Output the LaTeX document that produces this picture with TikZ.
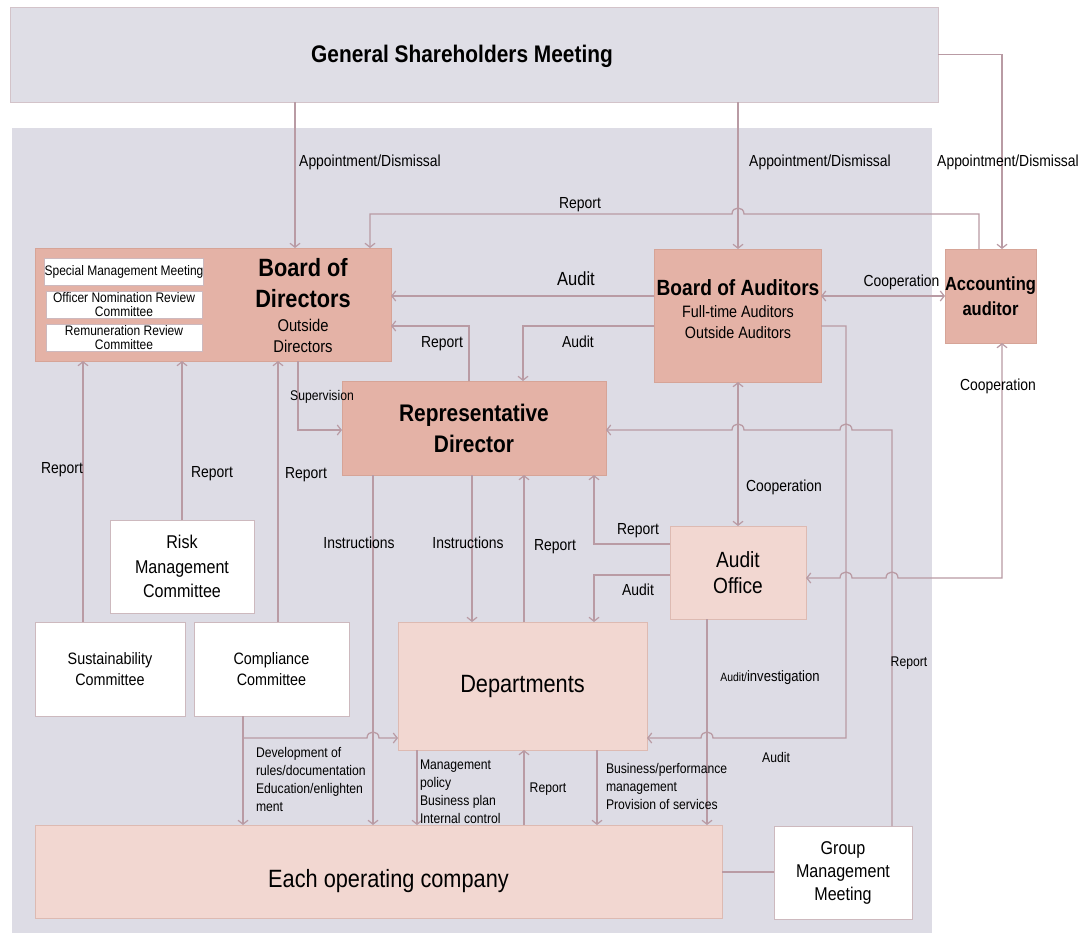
\documentclass[tikz,border=0pt]{standalone}
\usepackage{fontspec}
\setmainfont{Liberation Sans}[FakeStretch=0.87]
\usetikzlibrary{arrows.meta}
\definecolor{bgc}{HTML}{DDDCE5}
\definecolor{gsmc}{HTML}{DFDEE6}
\definecolor{gsmb}{HTML}{D3C3C9}
\definecolor{salm}{HTML}{E4B2A6}
\definecolor{salmb}{HTML}{D6A497}
\definecolor{pinkl}{HTML}{F2D7D1}
\definecolor{pinkb}{HTML}{DDBAB2}
\definecolor{lnc}{HTML}{B99BA4}
\definecolor{wb}{HTML}{CDB9BE}
\newcommand\fsz[2]{\fontsize{#1}{#2}\selectfont}
\begin{document}
\begin{tikzpicture}[x=1pt,y=-1pt,
  every node/.style={inner sep=0pt, outer sep=0pt},
  sz/.style 2 args={minimum width=#1pt, minimum height=#2pt},
  salmbox/.style={draw=salmb, fill=salm, line width=1pt},
  pinkbox/.style={draw=pinkb, fill=pinkl, line width=1pt},
  whitebox/.style={draw=wb, fill=white, line width=1pt},
  ln/.style={draw=lnc, line width=1.3pt},
  ar/.style={-{Straight Barb[length=4pt,width=10pt,line width=1.2pt]}},
  dar/.style={{Straight Barb[length=4pt,width=10pt,line width=1.2pt]}-{Straight Barb[length=4pt,width=10pt,line width=1.2pt]}},
  lbl/.style={anchor=base, font=\fsz{16}{18}},
  sml/.style={anchor=base west, align=left, font=\fsz{14}{17.7}},
]
\useasboundingbox (0,0) rectangle (1083,935);
\fill[white] (0,0) rectangle (1083,935);
\fill[bgc] (12,128) rectangle (932,933);

% boxes
\node[draw=gsmb, fill=gsmc, line width=1pt, sz={928}{95}] (gsm) at (474,54.5) {};
\node[anchor=base, font=\bfseries\fsz{24}{28}] (gsmt) at (462,62) {General Shareholders Meeting};

\node[salmbox, sz={356}{113}] (bod) at (213,304.5) {};
\node[whitebox, sz={156}{27}, font=\fsz{13.8}{14}] (smm) at (124,271.5) {Special Management Meeting};
\node[whitebox, sz={156}{27}, font=\fsz{13.8}{14}, align=center] (onr) at (124,304.5) {Officer Nomination Review\\Committee};
\node[whitebox, sz={156}{27}, font=\fsz{13.8}{14}, align=center] (rrc) at (124,337.5) {Remuneration Review\\Committee};
\node[anchor=base, align=center, font=\bfseries\fsz{25}{31}] (bodt) at (303,307) {Board of\\Directors};
\node[anchor=base, align=center, font=\fsz{17}{21}] (bods) at (303,352) {Outside\\Directors};

\node[salmbox, sz={167}{133}] (boa) at (737.5,315.5) {};
\node[anchor=base, font=\bfseries\fsz{22}{26}] (boat) at (738,295) {Board of Auditors};
\node[anchor=base, align=center, font=\fsz{16.5}{20.5}] (boas) at (738,338) {Full-time Auditors\\Outside Auditors};

\node[salmbox, sz={91}{94}, align=center, font=\bfseries\fsz{19}{25}] (acc) at (990.5,296) {Accounting\\auditor};
\node[salmbox, sz={264}{94}, align=center, font=\bfseries\fsz{24}{31}] (rep) at (474,428) {Representative\\Director};

\node[whitebox, sz={144}{93}, align=center, font=\fsz{18.5}{24.5}] (rmc) at (182,566.5) {Risk\\Management\\Committee};
\node[whitebox, sz={150}{94}, align=center, font=\fsz{16.5}{20.5}] (sus) at (110,669) {Sustainability\\Committee};
\node[whitebox, sz={155}{94}, align=center, font=\fsz{16.5}{20.5}] (com) at (271.5,669) {Compliance\\Committee};

\node[pinkbox, sz={249}{128}, font=\fsz{25}{30}] (dep) at (522.5,686) {Departments};
\node[pinkbox, sz={136}{93}, align=center, font=\fsz{22}{26}] (ao) at (738,572.5) {Audit\\Office};
\node[pinkbox, sz={687}{93}] (eoc) at (378.5,871.5) {};
\node[anchor=base, font=\fsz{25}{30}] (eoct) at (388.5,887) {Each operating company};
\node[whitebox, sz={138}{93}, align=center, font=\fsz{18.5}{23}] (gmm) at (843,872.5) {Group\\Management\\Meeting};

% connectors
\draw[ln,ar] (295,0 |- gsm.south) -- (295,0 |- bod.north);
\draw[ln,ar] (738,0 |- gsm.south) -- (738,0 |- boa.north);
\draw[ln,ar] (gsm.east) -| (1002,0 |- acc.north);
\draw[ln,ar] (979,0 |- acc.north) -- (979,214) -- (744,214) .. controls (744,206) and (732,206) .. (732,214) -- (370,214) -- (370,0 |- bod.north);
\draw[ln,ar] (boa.west |- 0,296) -- (bod.east |- 0,296);
\draw[ln,dar] (boa.east |- 0,296) -- (acc.west |- 0,296);
\draw[ln,ar] (boa.west |- 0,326) -- (523,326) -- (523,0 |- rep.north);
\draw[ln,ar] (469,0 |- rep.north) -- (469,326) -- (bod.east |- 0,326);
\draw[ln,ar] (298,0 |- bod.south) -- (298,430) -- (rep.west |- 0,430);
\draw[ln,ar] (83,0 |- sus.north) -- (83,0 |- bod.south);
\draw[ln,ar] (182,0 |- rmc.north) -- (182,0 |- bod.south);
\draw[ln,ar] (278,0 |- com.north) -- (278,0 |- bod.south);
\draw[ln,ar] (373,0 |- rep.south) -- (373,0 |- eoc.north);
\draw[ln,ar] (472,0 |- rep.south) -- (472,0 |- dep.north);
\draw[ln,ar] (524,0 |- dep.north) -- (524,0 |- rep.south);
\draw[ln,ar] (ao.west |- 0,544) -- (594,544) -- (594,0 |- rep.south);
\draw[ln,ar] (ao.west |- 0,575) -- (594,575) -- (594,0 |- dep.north);
\draw[ln,dar] (738,0 |- boa.south) -- (738,0 |- ao.north);
\draw[ln,ar] (892,0 |- gmm.north) -- (892,430) -- (852,430) .. controls (852,422) and (840,422) .. (840,430) -- (744,430) .. controls (744,422) and (732,422) .. (732,430) -- (rep.east |- 0,430);
\draw[ln,ar] (boa.east |- 0,326) -- (846,326) -- (846,738) -- (713,738) .. controls (713,730) and (701,730) .. (701,738) -- (dep.east |- 0,738);
\draw[ln,dar] (1002,0 |- acc.south) -- (1002,578) -- (898,578) .. controls (898,570) and (886,570) .. (886,578) -- (852,578) .. controls (852,570) and (840,570) .. (840,578) -- (ao.east |- 0,578);
\draw[ln,ar] (707,0 |- ao.south) -- (707,0 |- eoc.north);
\draw[ln,ar] (243,0 |- com.south) -- (243,0 |- eoc.north);
\draw[ln,ar] (243,738) -- (367,738) .. controls (367,730) and (379,730) .. (379,738) -- (dep.west |- 0,738);
\draw[ln,ar] (417,0 |- dep.south) -- (417,0 |- eoc.north);
\draw[ln,ar] (597,0 |- dep.south) -- (597,0 |- eoc.north);
\draw[ln,ar] (524,0 |- eoc.north) -- (524,0 |- dep.south);
\draw[ln] (eoc.east |- 0,872) -- (gmm.west |- 0,872);

% labels
\node[lbl] (l1) at (370,166) {Appointment/Dismissal};
\node[lbl] (l2) at (820,166) {Appointment/Dismissal};
\node[lbl] (l3) at (1008,166) {Appointment/Dismissal};
\node[lbl] (l4) at (580,208) {Report};
\node[lbl, font=\fsz{19}{22}] (l5) at (576,285) {Audit};
\node[lbl] (l6) at (901.5,286) {Cooperation};
\node[lbl] (l7) at (442,347) {Report};
\node[lbl] (l8) at (578,347) {Audit};
\node[lbl, font=\fsz{14}{16}] (l9) at (322,400) {Supervision};
\node[lbl] (l10) at (998,390) {Cooperation};
\node[lbl] (l11) at (62,473) {Report};
\node[lbl] (l12) at (212,477) {Report};
\node[lbl] (l13) at (306,478) {Report};
\node[lbl] (l14) at (784,491) {Cooperation};
\node[lbl] (l15) at (359,548) {Instructions};
\node[lbl] (l16) at (468,548) {Instructions};
\node[lbl] (l17) at (555,550) {Report};
\node[lbl] (l18) at (638,534) {Report};
\node[lbl] (l19) at (638,595) {Audit};
\node[lbl, font=\fsz{14}{16}] (l20) at (909,666) {Report};
\node[lbl, font=\fsz{15}{17}] (l21) at (770,681) {{\fsz{12}{14}Audit/}investigation};
\node[lbl, font=\fsz{14}{16}] (l22) at (776,762) {Audit};
\node[lbl, font=\fsz{14}{16}] (l23) at (548,792) {Report};
\node[sml] (l24) at (256,811) {Development of\\rules/documentation\\Education/enlighten\\ment};
\node[sml] (l25) at (420,823) {Management\\policy\\Business plan\\Internal control};
\node[sml] (l26) at (606,809) {Business/performance\\management\\Provision of services};
\end{tikzpicture}
\end{document}
